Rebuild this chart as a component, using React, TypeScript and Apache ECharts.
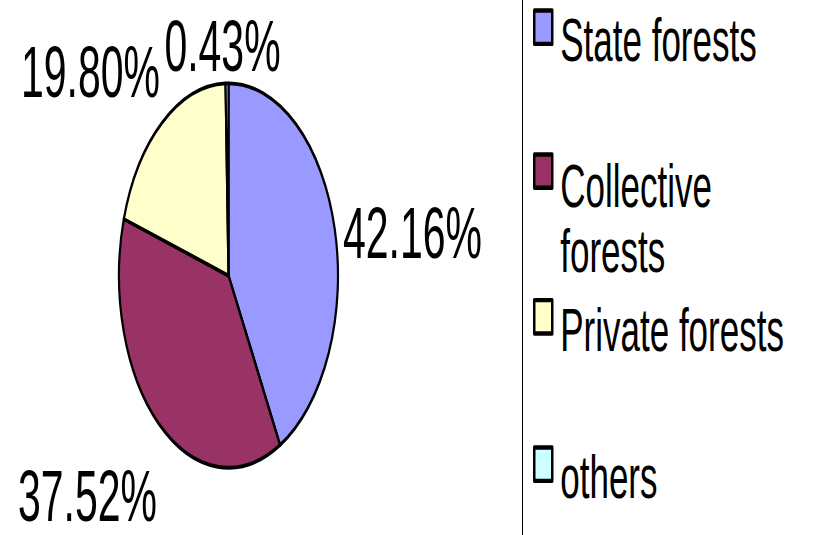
import React, { useEffect, useRef } from "react";
import * as echarts from "echarts";

// ---- data ----
const categories = ["State forests", "Collective forests", "Private forests", "others"];
const shares = [42.16, 37.52, 19.8, 0.43];
const colors = ["#9999FF", "#993366", "#FFFFCC", "#CCFFFF"];

// ---- layout (the original chart is stretched vertically) ----
const SCALE_Y = 1.755;
const W = 815;
const H = 305;
const labelPlacement = [
  { x: 343, y: 132.5, align: "left" },
  { x: 157, y: 282.5, align: "right" },
  { x: 160, y: 40.8, align: "right" },
  { x: 222.5, y: 26.2, align: "center" },
];
const legendTops = [-5, 58.5, 160, 244];
const legendSpacer = [15, 54, 15, 15];
const legendWrapWidth = [300, 190, 300, 300];

const FONT = '"Liberation Sans", Arial, sans-serif';
const LEGEND_FONT = 35;
const LEGEND_LINE = 37;

// simple word wrap for legend names
function wrap(name: string, width: number): string {
  const words = name.split(" ");
  const lines: string[] = [];
  let cur = "";
  const approx = (s: string) => s.length * LEGEND_FONT * 0.5;
  for (const w of words) {
    const next = cur ? cur + " " + w : w;
    if (cur && approx(next) > width) {
      lines.push(cur);
      cur = w;
    } else cur = next;
  }
  if (cur) lines.push(cur);
  return lines.join("\n");
}

export default function App() {
  const ref = useRef<HTMLDivElement>(null);
  useEffect(() => {
    if (!ref.current) return;
    const chart = echarts.init(ref.current, undefined, { renderer: "svg" });
    const data = categories.map((name, i) => ({
      name,
      value: shares[i],
      itemStyle: { color: colors[i] },
    }));
    chart.setOption({
      animation: false,
      backgroundColor: "#ffffff",
      legend: categories.map((name, i) => ({
        data: [name],
        orient: "vertical",
        left: 533,
        top: legendTops[i],
        padding: 0,
        icon: "rect",
        itemWidth: 18,
        itemHeight: 19,
        selectedMode: false,
        itemStyle: { borderColor: "#000", borderWidth: 2.5 },
        formatter: (n: string) => `{s| }\n{t|${wrap(n, legendWrapWidth[i])}}`,
        textStyle: {
          fontFamily: FONT,
          fontSize: LEGEND_FONT,
          color: "#000",
          rich: {
            s: { fontSize: 4, lineHeight: legendSpacer[i] },
            t: {
              fontFamily: FONT,
              fontSize: LEGEND_FONT,
              lineHeight: LEGEND_LINE,
              color: "#000",
              padding: [0, 0, 0, 3],
            },
          },
        },
      })),
      graphic: [
        {
          type: "line",
          shape: { x1: 522.5, y1: 0, x2: 522.5, y2: H },
          style: { stroke: "#000", lineWidth: 1 },
          silent: true,
        },
      ],
      series: [
        {
          type: "pie",
          center: [228.5, 157],
          radius: 109.5,
          startAngle: 90,
          clockwise: true,
          avoidLabelOverlap: false,
          silent: true,
          data,
          itemStyle: { borderColor: "#000", borderWidth: 2.2 },
          label: {
            show: true,
            position: "outside",
            formatter: (p: any) => p.value.toFixed(2) + "%",
            fontFamily: FONT,
            fontSize: 41,
            color: "#000",
          },
          labelLine: { show: false },
          labelLayout: (params: any) => {
            const pl = labelPlacement[params.dataIndex];
            return { x: pl.x, y: pl.y, align: pl.align, verticalAlign: "middle" };
          },
          emphasis: { disabled: true },
        },
      ],
    });
    return () => chart.dispose();
  }, []);
  return (
    <div
      style={{
        position: "absolute",
        left: 0,
        top: 0,
        width: W,
        height: H,
        transform: `scaleY(${SCALE_Y})`,
        transformOrigin: "0 0",
      }}
    >
      <div ref={ref} style={{ width: W, height: H }} />
    </div>
  );
}
